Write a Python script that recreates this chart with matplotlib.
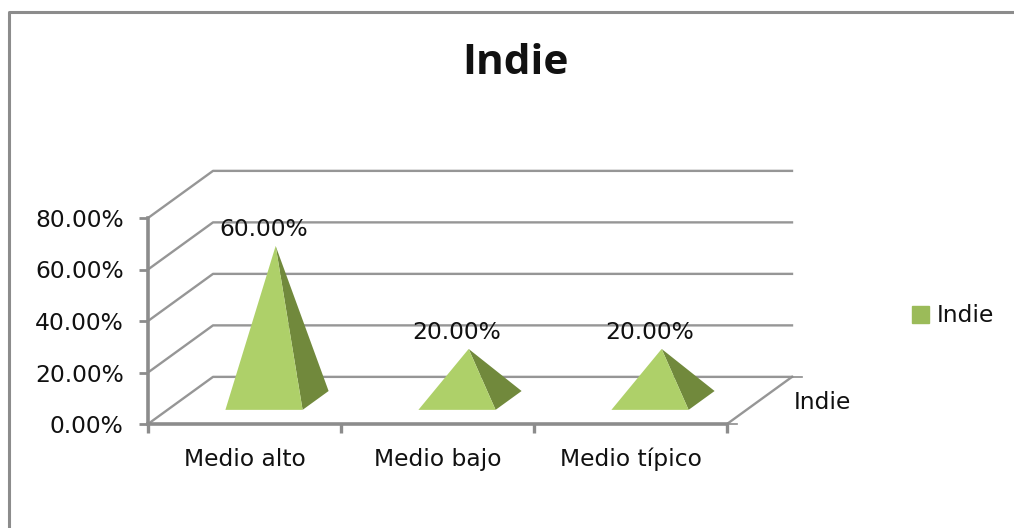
import matplotlib
matplotlib.use("Agg")
import matplotlib.pyplot as plt
from matplotlib.patches import Polygon, Patch
from matplotlib.lines import Line2D

categorias = ["Medio alto", "Medio bajo", "Medio típico"]
valores = [60, 20, 20]
etiquetas = ["60.00%", "20.00%", "20.00%"]
y_ticks = [0, 20, 40, 60, 80]
y_labels = ["0.00%", "20.00%", "40.00%", "60.00%", "80.00%"]
serie = "Indie"

W, H = 1014, 528
GRIS = "#8c8c8c"
CLARO = "#aed069"
OSCURO = "#71893c"
TXT = 16.8
plt.rcParams["font.family"] = "DejaVu Sans"

fig = plt.figure(figsize=(W / 100, H / 100), dpi=100)
# marco del grafico, solo arriba e izquierda
fig.add_artist(Line2D([8.5 / W, 8.5 / W, 1], [0, 1 - 11.5 / H, 1 - 11.5 / H], color=GRIS, lw=2.2))

ax = fig.add_axes([148 / W, 1 - 424 / H, (727 - 148) / W, (424 - 218) / H])
ax.set_xlim(-0.5, 2.5)
ax.set_ylim(0, 80)
ax.patch.set_alpha(0)

# profundidad del 3d, en unidades de los ejes
dx = 65 / 193
dy = 18.3

# paredes y rejilla
for t in y_ticks:
    ax.plot([-0.5, -0.5 + dx, 2.5 + dx], [t, t + dy, t + dy], color="#969696", lw=1.7, clip_on=False, zorder=1)
ax.plot([2.5, 2.5 + dx], [0, dy], color="#969696", lw=1.7, clip_on=False, zorder=1)
ax.plot([2.5 + dx, 2.5 + dx + 0.05], [dy, dy], color=GRIS, lw=1.2, clip_on=False, zorder=1)
ax.plot([2.5, 2.5 + 0.05], [0, 0], color=GRIS, lw=1.2, clip_on=False, zorder=1)

# piramides
an = 0.2
fondo = 0.4
for i, v in enumerate(valores):
    cx = i + dx / 2
    cy = dy / 2
    fl = (cx - an - fondo * dx / 2, cy - fondo * dy / 2)
    fr = (cx + an - fondo * dx / 2, cy - fondo * dy / 2)
    br = (cx + an + fondo * dx / 2, cy + fondo * dy / 2)
    apex = (cx - 0.007, cy + v)
    ax.add_patch(Polygon([fr, br, apex], color=OSCURO, lw=0, clip_on=False, zorder=3))
    ax.add_patch(Polygon([fl, fr, apex], color=CLARO, lw=0, clip_on=False, zorder=4))
    ax.annotate(etiquetas[i], apex, xytext=(-8.5, 12), textcoords="offset points", ha="center", va="center",
                fontsize=TXT, color="#111111", zorder=5, annotation_clip=False)

ax.set_xticks([-0.5, 0.5, 1.5, 2.5])
ax.set_xticklabels([])
ax.set_xticks([0, 1, 2], minor=True)
ax.set_xticklabels(categorias, minor=True, fontsize=TXT, color="#111111")
ax.tick_params(axis="x", which="minor", length=0, pad=17)
ax.tick_params(axis="x", which="major", length=6.5, width=2.4, color=GRIS)
ax.set_yticks(y_ticks)
ax.set_yticklabels(y_labels, fontsize=TXT, color="#111111")
ax.tick_params(axis="y", length=6.5, width=2, color=GRIS, pad=11)
for s in ["top", "right"]:
    ax.spines[s].set_visible(False)
for s in ["left", "bottom"]:
    ax.spines[s].set_color(GRIS)
    ax.spines[s].set_linewidth(2.6)

# etiqueta del eje de profundidad
ax.text(2.5 + dx + 0.01, dy - 9.8, serie, fontsize=TXT, color="#111111", ha="left", va="center", clip_on=False)

fig.text(515.5 / W, 1 - 64 / H, serie, fontsize=30.5, fontweight="bold", family="Open Sans", color="#111111",
         ha="center", va="center")

fig.legend(handles=[Patch(color="#9bbb59", label=serie)], loc="center left", bbox_to_anchor=(912 / W, 1 - 316 / H),
           frameon=False, fontsize=TXT, handlelength=0.73, handleheight=0.73, handletextpad=0.35,
           borderpad=0, borderaxespad=0, labelcolor="#111111")

fig.savefig("out.png", dpi=100)
